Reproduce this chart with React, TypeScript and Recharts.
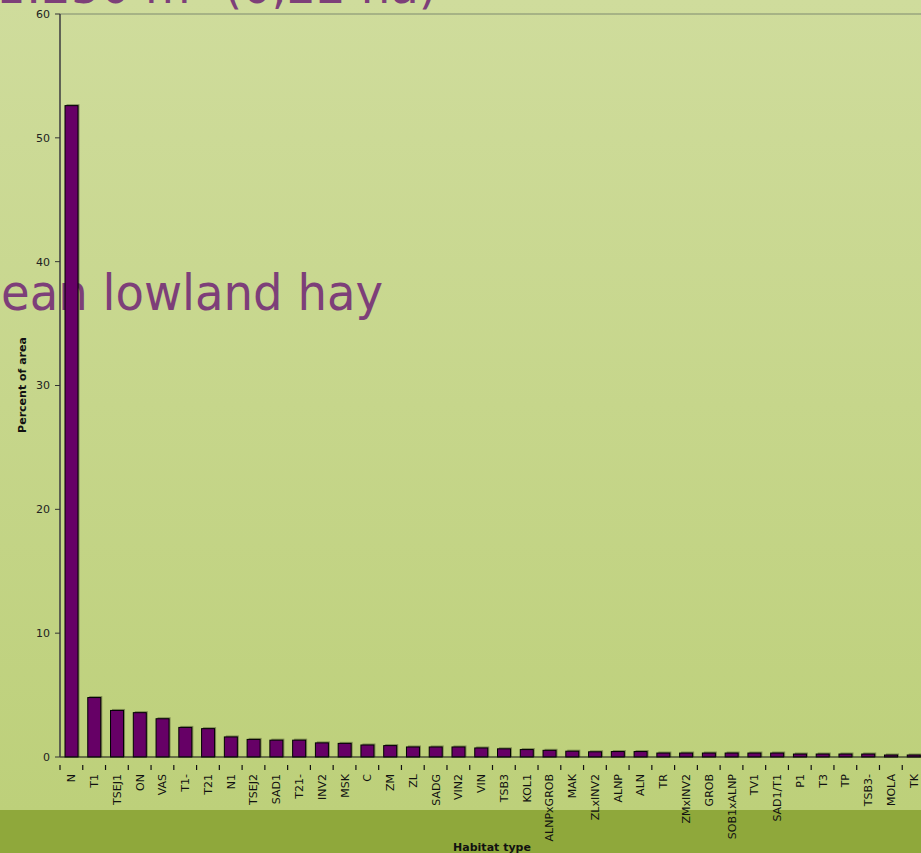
import { BarChart, Bar, XAxis, YAxis, ReferenceLine } from 'recharts';

const habitats = [
  'N', 'T1', 'TSEJ1', 'ON', 'VAS', 'T1-', 'T21', 'N1', 'TSEJ2', 'SAD1',
  'T21-', 'INV2', 'MSK', 'C', 'ZM', 'ZL', 'SADG', 'VIN2', 'VIN', 'TSB3',
  'KOL1', 'ALNPxGROB', 'MAK', 'ZLxINV2', 'ALNP', 'ALN', 'TR', 'ZMxINV2', 'GROB', 'SOB1xALNP',
  'TV1', 'SAD1/T1', 'P1', 'T3', 'TP', 'TSB3-', 'MOLA', 'TK',
];

const percentOfArea = [
  52.6, 4.8, 3.76, 3.58, 3.09, 2.39, 2.29, 1.62, 1.42, 1.36,
  1.36, 1.14, 1.1, 0.97, 0.92, 0.81, 0.81, 0.81, 0.73, 0.66,
  0.6, 0.54, 0.47, 0.42, 0.44, 0.44, 0.32, 0.32, 0.32, 0.32,
  0.32, 0.32, 0.24, 0.24, 0.24, 0.24, 0.16, 0.16,
];

const yTicks = [0, 10, 20, 30, 40, 50, 60];

const data = habitats.map((name, i) => ({ name, value: percentOfArea[i] }));

const CHART_W = 930;
const CHART_H = 853;
const PLOT_RIGHT = 925;
const BAND = (PLOT_RIGHT - 60) / habitats.length;

const FONT = "'DejaVu Sans', Verdana, sans-serif";
const TITLE_COLOR = '#7d3f79';

// tick mark sits on the category boundary, label under the centre
const HabitatTick = ({ x, y, payload }: any) => (
  <g transform={`translate(${x},${y})`}>
    <line x1={-BAND / 2} x2={-BAND / 2} y1={0} y2={5} stroke="#111" strokeWidth={1.2} />
    <text transform="rotate(-90)" x={-9} y={4} textAnchor="end" fontSize={11} fontFamily={FONT} fill="#111">
      {payload.value}
    </text>
  </g>
);

const ShadowBar = ({ x, y, width, height }: any) => {
  if (!height || height <= 0) return null;
  return (
    <g>
      <rect x={x + 1.5} y={y - 1.5} width={width} height={height + 1.5} fill="rgba(50,55,30,0.45)" />
      <rect x={x} y={y} width={width} height={height} fill="#660066" stroke="#000" strokeWidth={1} />
    </g>
  );
};

export default function App() {
  return (
    <div
      style={{
        position: 'fixed',
        left: 0,
        top: 0,
        width: 921,
        height: 853,
        overflow: 'hidden',
        background: 'linear-gradient(to bottom, #cfdc9c 0px, #bdd07a 810px, #8fa83b 810px, #8fa83b 853px)',
        fontFamily: FONT,
      }}
    >
      <svg width={921} height={853} style={{ position: 'absolute', left: 0, top: 0 }}>
        <text x={-4} y={3} fontSize={49} fontFamily={FONT} fill={TITLE_COLOR} textLength={441} lengthAdjust="spacingAndGlyphs">
          1:250 m²  (0,22 ha)
        </text>
        <text x={1} y={310} fontSize={49} fontFamily={FONT} fill={TITLE_COLOR} textLength={382} lengthAdjust="spacingAndGlyphs">
          ean lowland hay
        </text>
        <text
          transform="translate(26,385) rotate(-90)"
          textAnchor="middle"
          fontSize={11}
          fontWeight="bold"
          fontFamily={FONT}
          fill="#111"
        >
          Percent of area
        </text>
        <text x={492} y={851} textAnchor="middle" fontSize={11} fontWeight="bold" fontFamily={FONT} fill="#111">
          Habitat type
        </text>
      </svg>
      <div style={{ position: 'absolute', left: 0, top: 0 }}>
        <BarChart
          width={CHART_W}
          height={CHART_H}
          data={data}
          margin={{ top: 14, right: CHART_W - PLOT_RIGHT, bottom: 0, left: 0 }}
          barCategoryGap="22%"
        >
          <ReferenceLine y={60} stroke="#7f8a70" strokeWidth={1.2} ifOverflow="extendDomain" />
          <XAxis
            dataKey="name"
            interval={0}
            height={96}
            tick={<HabitatTick />}
            tickLine={false}
            axisLine={{ stroke: '#111', strokeWidth: 1.2 }}
          />
          <YAxis
            width={60}
            domain={[0, 60]}
            ticks={yTicks}
            interval={0}
            tickSize={5}
            tickMargin={5}
            tick={{ fontSize: 11, fontFamily: FONT, fill: '#222' }}
            tickLine={{ stroke: '#333' }}
            axisLine={{ stroke: '#444', strokeWidth: 1.6 }}
          />
          <Bar dataKey="value" isAnimationActive={false} shape={<ShadowBar />} />
        </BarChart>
      </div>
    </div>
  );
}
